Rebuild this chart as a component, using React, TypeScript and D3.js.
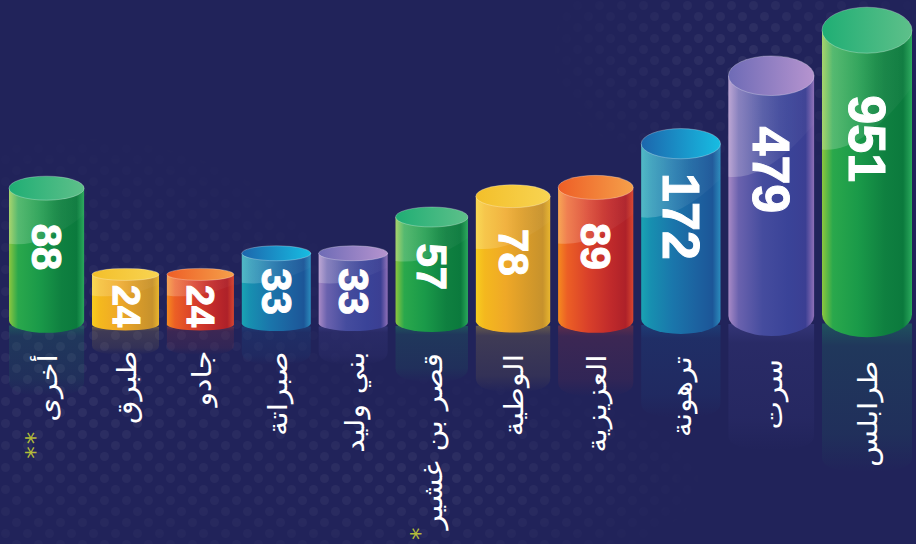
import React, { useEffect, useRef } from "react";
import * as d3 from "d3";

const categories = ["أخرى", "طبرق", "جادو", "صبراتة", "بني وليد", "قصر بن غشير", "الوطية", "العزيزية", "ترهونة", "سرت", "طرابلس"];
const values = [88, 24, 24, 33, 33, 57, 78, 89, 172, 479, 951];
const notes = ["**", "", "", "", "", "*", "", "", "", "", ""];
const colorKeys = ["green", "yellow", "orange", "blue", "purple"];

const W = 916;
const H = 544;

const themes: Record<string, { body: string[]; top: string[]; glow: string }> = {
  green: { body: ["#8cc63f", "#2aa84c", "#1a9a49", "#0f8040", "#0b7a3d", "#2aa85c"], top: ["#1fae74", "#5ec08a"], glow: "#1c8a62" },
  yellow: { body: ["#f7cc1f", "#f4b81e", "#efa827", "#d69a2a", "#c7922c", "#e8b62e"], top: ["#f3bf2a", "#f8d452"], glow: "#b89a40" },
  orange: { body: ["#f58a1f", "#ec5f25", "#d9402a", "#c02a2b", "#ae2129", "#d8452f"], top: ["#ee5e26", "#f5a04a"], glow: "#a8383a" },
  blue: { body: ["#1aa3b3", "#178fb0", "#1a76ab", "#1c62a0", "#1c5698", "#2b8cbd"], top: ["#1c66ad", "#17bde2"], glow: "#1a5a95" },
  purple: { body: ["#a88ac6", "#6a62ae", "#454c9e", "#3a4398", "#3b3f93", "#8f70b8"], top: ["#6e6bb6", "#b694cf"], glow: "#4a4a98" },
};

export default function App() {
  const ref = useRef<SVGSVGElement | null>(null);

  useEffect(() => {
    const svg = d3.select(ref.current);
    svg.selectAll("*").remove();

    const defs = svg.append("defs");

    // background
    svg.append("rect").attr("width", W).attr("height", H).attr("fill", "#21235a");

    const pat = defs.append("pattern").attr("id", "dots").attr("width", 22).attr("height", 22).attr("patternUnits", "userSpaceOnUse");
    pat.append("circle").attr("cx", 5.5).attr("cy", 5.5).attr("r", 4.5).attr("fill", "#ffffff");
    pat.append("circle").attr("cx", 16.5).attr("cy", 16.5).attr("r", 4.5).attr("fill", "#ffffff");
    const rg = defs.append("radialGradient").attr("id", "dotMaskG");
    rg.append("stop").attr("offset", "0%").attr("stop-color", "#fff").attr("stop-opacity", 1);
    rg.append("stop").attr("offset", "100%").attr("stop-color", "#fff").attr("stop-opacity", 0);
    const mask = defs.append("mask").attr("id", "dotMask");
    mask.append("ellipse").attr("cx", 80).attr("cy", 380).attr("rx", 320).attr("ry", 260).attr("fill", "url(#dotMaskG)");
    mask.append("ellipse").attr("cx", 740).attr("cy", 50).attr("rx", 200).attr("ry", 140).attr("fill", "url(#dotMaskG)");
    mask.append("ellipse").attr("cx", 420).attr("cy", 480).attr("rx", 300).attr("ry", 110).attr("fill", "url(#dotMaskG)");
    svg.append("rect").attr("width", W).attr("height", H).attr("fill", "url(#dots)").attr("opacity", 0.06).attr("mask", "url(#dotMask)");

    // gradients per theme
    Object.entries(themes).forEach(([k, t]) => {
      const g = defs.append("linearGradient").attr("id", `body-${k}`).attr("x1", 0).attr("x2", 1).attr("y1", 0).attr("y2", 0);
      const offs = [0, 0.12, 0.4, 0.7, 0.9, 1];
      t.body.forEach((c, i) => g.append("stop").attr("offset", offs[i]).attr("stop-color", c));
      const tg = defs.append("linearGradient").attr("id", `top-${k}`).attr("x1", 0).attr("x2", 1).attr("y1", 0).attr("y2", 0);
      tg.append("stop").attr("offset", 0).attr("stop-color", t.top[0]);
      tg.append("stop").attr("offset", 1).attr("stop-color", t.top[1]);
      const rf = defs.append("linearGradient").attr("id", `refl-${k}`).attr("x1", 0).attr("x2", 0).attr("y1", 0).attr("y2", 1);
      rf.append("stop").attr("offset", 0).attr("stop-color", t.glow).attr("stop-opacity", 0.45);
      rf.append("stop").attr("offset", 0.15).attr("stop-color", t.glow).attr("stop-opacity", 0.2);
      rf.append("stop").attr("offset", 0.75).attr("stop-color", t.glow).attr("stop-opacity", 0.12);
      rf.append("stop").attr("offset", 1).attr("stop-color", t.glow).attr("stop-opacity", 0.0);
    });
    const hl = defs.append("linearGradient").attr("id", "hl").attr("x1", 0).attr("x2", 1).attr("y1", 0).attr("y2", 0);
    hl.append("stop").attr("offset", 0).attr("stop-color", "#fff").attr("stop-opacity", 0.24);
    hl.append("stop").attr("offset", 0.6).attr("stop-color", "#fff").attr("stop-opacity", 0.06);
    hl.append("stop").attr("offset", 1).attr("stop-color", "#fff").attr("stop-opacity", 0.02);

    const widthScale = d3.scaleLog().domain([24, 951]).range([67, 90]);
    const heightScale = d3.scaleLog().domain([24, 951]).range([62, 330]);
    const ryScale = d3.scaleLog().domain([24, 951]).range([6, 23]);
    const fontScale = d3.scaleThreshold<number, number>().domain([30, 100]).range([38, 42, 52]);
    const colorScale = d3.scaleOrdinal<number, string>().domain(d3.range(colorKeys.length)).range(colorKeys);

    const x0 = 9, x1 = 912;
    const widths = values.map((v) => widthScale(v));
    const gap = (x1 - x0 - d3.sum(widths)) / (values.length - 1);
    const lefts: number[] = [];
    let acc = x0;
    widths.forEach((w) => { lefts.push(acc); acc += w + gap; });

    const data = values.map((v, i) => {
      const w = widths[i];
      const rx = w / 2;
      const cx = lefts[i] + rx;
      const ry = ryScale(v);
      const h = heightScale(v);
      const bottomExt = 328 + ry * 0.4;
      const botC = bottomExt - ry;
      const topC = bottomExt - h + ry;
      return { v, i, w, rx, cx, ry, h, bottomExt, botC, topC, key: colorScale(i % colorKeys.length), label: categories[i], note: notes[i] };
    });

    const g = svg.append("g");

    // reflections
    g.selectAll("path.refl").data(data).enter().append("path")
      .attr("d", (d) => {
        const rh = 0.45 * d.h;
        const top = d.bottomExt - d.ry * 0.6;
        const r = Math.min(14, rh / 3);
        return `M${d.cx - d.rx},${top} L${d.cx - d.rx},${top + rh - r} Q${d.cx - d.rx},${top + rh} ${d.cx},${top + rh} Q${d.cx + d.rx},${top + rh} ${d.cx + d.rx},${top + rh - r} L${d.cx + d.rx},${top} Z`;
      })
      .attr("fill", (d) => `url(#refl-${d.key})`);

    const cyl = g.selectAll("g.cyl").data(data).enter().append("g").attr("class", "cyl");

    cyl.append("path")
      .attr("d", (d) => `M${d.cx - d.rx},${d.topC} L${d.cx - d.rx},${d.botC} A${d.rx},${d.ry} 0 0 0 ${d.cx + d.rx},${d.botC} L${d.cx + d.rx},${d.topC} Z`)
      .attr("fill", (d) => `url(#body-${d.key})`);

    // highlight over upper-left part
    cyl.append("path")
      .attr("d", (d) => {
        const bodyH = d.botC - d.topC;
        const yl = d.topC + Math.max(bodyH * 0.42, 18);
        const yr = d.topC + Math.max(bodyH * 0.2, 6);
        return `M${d.cx - d.rx},${d.topC} L${d.cx - d.rx},${yl} Q${d.cx - d.rx * 0.1},${yl + 4} ${d.cx + d.rx},${yr} L${d.cx + d.rx},${d.topC} Z`;
      })
      .attr("fill", "url(#hl)");

    cyl.append("ellipse")
      .attr("cx", (d) => d.cx).attr("cy", (d) => d.topC)
      .attr("rx", (d) => d.rx).attr("ry", (d) => d.ry)
      .attr("fill", (d) => `url(#top-${d.key})`)
      .attr("stroke", "rgba(255,255,255,0.35)").attr("stroke-width", 0.8);

    // values
    cyl.append("text")
      .attr("transform", (d) => `translate(${d.cx},${d.bottomExt - (0.65 * d.h - 16)}) rotate(90)`)
      .attr("text-anchor", "middle")
      .attr("dominant-baseline", "central")
      .attr("fill", "#ffffff")
      .attr("stroke", "#ffffff")
      .attr("stroke-width", 1)
      .attr("font-family", "'Liberation Sans', Arial, sans-serif")
      .attr("font-weight", 700)
      .attr("font-size", (d) => fontScale(d.v))
      .text((d) => String(d.v));

    // labels
    const stretch = 1.12;
    const labelTop = (d: any) => 347 + d.ry * 0.6;
    const labels = g.selectAll("text.lbl").data(data).enter().append("text")
      .attr("class", "lbl")
      .attr("transform", (d) => `translate(${d.cx + 1},${labelTop(d)}) rotate(-90) scale(${stretch},1)`)
      .attr("direction", "rtl")
      .attr("text-anchor", "start")
      .attr("dominant-baseline", "central")
      .attr("fill", "#ffffff")
      .attr("font-family", "'DejaVu Sans', sans-serif")
      .attr("font-size", 27)
      .text((d) => d.label);

    labels.each(function (d: any) {
      if (!d.note) return;
      const len = (this as SVGTextElement).getComputedTextLength() * stretch;
      const fs = 25;
      const noteLen = d.note.length * (fs * 0.5 + 2);
      let y = labelTop(d) + len + (d.note.length > 1 ? 8 : 0);
      y = Math.min(y, H - 4 - noteLen);
      g.append("text")
        .attr("transform", `translate(${d.cx - 12},${y}) rotate(-90)`)
        .attr("text-anchor", "end")
        .attr("dominant-baseline", "central")
        .attr("fill", "#b3bb3a")
        .attr("font-family", "'DejaVu Sans', sans-serif")
        .attr("font-size", fs)
        .attr("letter-spacing", 2)
        .text(d.note);
    });
  }, []);

  return <svg ref={ref} width={W} height={H} style={{ position: "fixed", left: 0, top: 0, display: "block" }} />;
}
